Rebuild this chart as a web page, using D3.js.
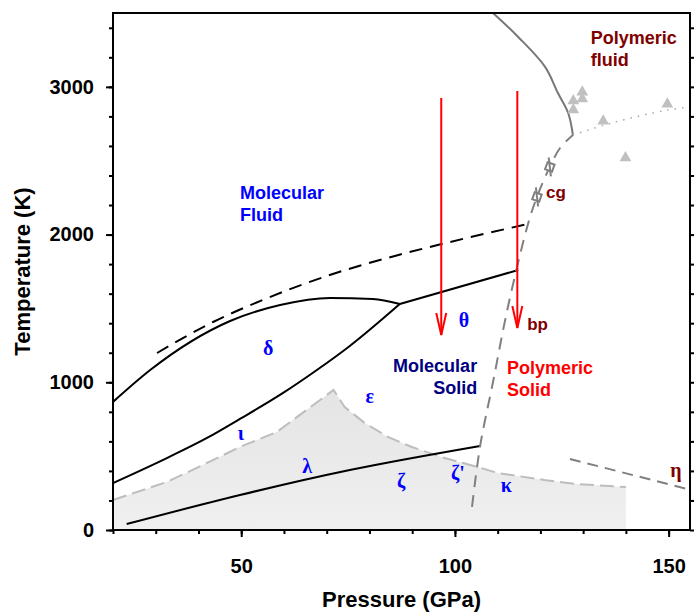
<!DOCTYPE html>
<html>
<head>
<meta charset="utf-8">
<script src="https://cdnjs.cloudflare.com/ajax/libs/d3/7.8.5/d3.min.js"></script>
<style>
  body { margin: 0; background: #fff; }
  svg text { font-family: "Liberation Sans", Arial, sans-serif; font-weight: bold; }
</style>
</head>
<body>
<svg id="chart"></svg>
<script>
// Datos (P en GPa, T en K)
const xMajor = [50, 100, 150];
const xMinor = d3.range(20, 160, 10);
const yMajor = [0, 1000, 2000, 3000];
const yMinor = d3.range(0, 3600, 200);

const shadeLeft = [[20, 203], [32.6, 325], [42, 454], [49.7, 562], [58.3, 663], [71.6, 948]];
const shadeRight = [[71.6, 948], [74.2, 833], [78.9, 724], [84.3, 630], [89.9, 562], [97.6, 487],
  [105.3, 427], [110, 386], [120.9, 339], [128.6, 311], [140, 291]];

const lambdaLine = [[23.2, 40], [49.7, 237], [75.4, 406], [105.9, 569]];
const deltaLow = [[20, 318], [32.6, 487], [42, 623], [49.7, 752], [59.8, 928], [67.7, 1083], [75.4, 1246], [87.1, 1530]];
const meltLine = [[20, 867], [28.7, 1083], [47.4, 1415], [59.1, 1523], [70.8, 1571], [80.8, 1564], [87.1, 1530]];
const thetaLine = [[87.1, 1530], [114.8, 1760]];
const dashedMelt = [[30.3, 1198], [43.4, 1408], [55, 1557], [70.7, 1726], [86.8, 1862], [96.9, 1936], [117.1, 2072]];

const polyBoundary = [[104, 156], [105.9, 569], [108.9, 1000], [112.4, 1510], [117.1, 2072],
  [119.2, 2255], [122.2, 2458], [124.6, 2586], [127.6, 2674]];
const fluidBoundary = [[108.9, 3500], [114.8, 3338], [121.1, 3135], [124.1, 2958], [126.5, 2823], [127.6, 2674]];
const dottedLine = [[127.6, 2674], [136.6, 2755], [149.7, 2843], [156, 2868]];
const etaLine = [[126.9, 481], [156, 265]];

const triangles = [[127.7, 2905], [127.7, 2844], [129.8, 2965], [129.8, 2918], [134.7, 2769], [149.7, 2884], [139.9, 2519]];
const diamonds = [[119.2, 2255], [122.2, 2458]];
const arrows = [[96.8, 2925, 1320], [114.6, 2972, 1368]];

const labels = [
  { lines: ['Molecular', 'Fluid'], p: 49.7, t: 2241, color: '#0000ff', anchor: 'start' },
  { lines: ['Polymeric', 'fluid'], p: 131.8, t: 3290, color: '#800000', anchor: 'start' },
  { lines: ['Molecular', 'Solid'], p: 105.2, t: 1070, color: '#000080', anchor: 'end' },
  { lines: ['Polymeric', 'Solid'], p: 112.2, t: 1056, color: '#ff0000', anchor: 'start' },
  { lines: ['cg'], p: 121.3, t: 2248, color: '#800000', anchor: 'start' },
  { lines: ['bp'], p: 116.9, t: 1354, color: '#800000', anchor: 'start' }
];
const greek = [
  { text: 'θ', p: 102.1, t: 1374, color: '#0000ff' },
  { text: 'δ', p: 56.3, t: 1185, color: '#0000ff' },
  { text: 'ε', p: 80.1, t: 860, color: '#0000ff' },
  { text: 'ι', p: 49.9, t: 609, color: '#0000ff' },
  { text: 'λ', p: 65.4, t: 386, color: '#0000ff' },
  { text: 'ζ', p: 87.4, t: 284, color: '#0000ff' },
  { text: "ζ'", p: 100.7, t: 339, color: '#0000ff' },
  { text: 'κ', p: 112, t: 257, color: '#0000ff' },
  { text: 'η', p: 151.7, t: 359, color: '#800000' }
];

// Ventana
const width = 695;
const height = 615;
const margin = { top: 13, right: 5, bottom: 85, left: 113 };

const svg = d3.select('#chart')
  .attr('width', width)
  .attr('height', height);

const x = d3.scaleLinear().domain([20, 155]).range([margin.left, width - margin.right]);
const y = d3.scaleLinear().domain([0, 3500]).range([height - margin.bottom, margin.top]);

const defs = svg.append('defs');
defs.append('clipPath').attr('id', 'plotClip')
  .append('rect')
  .attr('x', x(20)).attr('y', y(3500))
  .attr('width', x(155) - x(20)).attr('height', y(0) - y(3500));

const grad = defs.append('linearGradient').attr('id', 'shadeGrad')
  .attr('x1', 0).attr('y1', 0).attr('x2', 0).attr('y2', 1);
grad.append('stop').attr('offset', '0%').attr('stop-color', '#e4e4e4');
grad.append('stop').attr('offset', '100%').attr('stop-color', '#f0f0f0');

const plot = svg.append('g').attr('clip-path', 'url(#plotClip)');

const line = d3.line().x(d => x(d[0])).y(d => y(d[1]));
const smoothX = d3.line().x(d => x(d[0])).y(d => y(d[1])).curve(d3.curveMonotoneX);
const smooth = d3.line().x(d => x(d[0])).y(d => y(d[1])).curve(d3.curveCatmullRom.alpha(0.5));

// Zona sombreada
const shadePts = shadeLeft.concat(shadeRight.slice(1), [[140, 0], [20, 0]]);
plot.append('path')
  .attr('d', line(shadePts) + 'Z')
  .attr('fill', 'url(#shadeGrad)');

plot.append('path')
  .attr('d', line(shadeLeft.concat(shadeRight.slice(1))))
  .attr('fill', 'none')
  .attr('stroke', '#bdbdbd')
  .attr('stroke-width', 2)
  .attr('stroke-dasharray', '14,6');

// Lineas negras
[lambdaLine, deltaLow, meltLine, thetaLine].forEach(pts => {
  plot.append('path')
    .attr('d', smoothX(pts))
    .attr('fill', 'none')
    .attr('stroke', '#000')
    .attr('stroke-width', 2);
});

plot.append('path')
  .attr('d', smoothX(dashedMelt))
  .attr('fill', 'none')
  .attr('stroke', '#000')
  .attr('stroke-width', 2)
  .attr('stroke-dasharray', '13,8');

// Lineas grises
plot.append('path')
  .attr('d', smooth(polyBoundary))
  .attr('fill', 'none')
  .attr('stroke', '#808080')
  .attr('stroke-width', 2)
  .attr('stroke-dasharray', '12,8');

plot.append('path')
  .attr('d', smooth(fluidBoundary))
  .attr('fill', 'none')
  .attr('stroke', '#777')
  .attr('stroke-width', 2);

plot.append('path')
  .attr('d', smooth(dottedLine))
  .attr('fill', 'none')
  .attr('stroke', '#aaa')
  .attr('stroke-width', 1.5)
  .attr('stroke-dasharray', '1.5,6');

plot.append('path')
  .attr('d', line(etaLine))
  .attr('fill', 'none')
  .attr('stroke', '#808080')
  .attr('stroke-width', 2)
  .attr('stroke-dasharray', '11,7');

// Triangulos
plot.selectAll('.tri')
  .data(triangles)
  .enter().append('path')
  .attr('class', 'tri')
  .attr('d', d3.symbol().type(d3.symbolTriangle).size(60))
  .attr('transform', d => `translate(${x(d[0])},${y(d[1])})`)
  .attr('fill', '#c0c0c0');

// Diamantes
const dia = plot.selectAll('.dia')
  .data(diamonds)
  .enter().append('g')
  .attr('class', 'dia')
  .attr('transform', d => `translate(${x(d[0])},${y(d[1])}) rotate(-25)`);
dia.append('path')
  .attr('d', d3.symbol().type(d3.symbolDiamond2).size(70))
  .attr('fill', '#fff')
  .attr('stroke', '#808080')
  .attr('stroke-width', 2);
dia.append('line')
  .attr('x1', -3).attr('y1', 9).attr('x2', 3).attr('y2', -9)
  .attr('stroke', '#808080')
  .attr('stroke-width', 2);

// Flechas rojas
arrows.forEach(a => {
  const ax = x(a[0]);
  const tip = y(a[2]);
  plot.append('line')
    .attr('x1', ax).attr('x2', ax)
    .attr('y1', y(a[1])).attr('y2', tip)
    .attr('stroke', '#ff0000')
    .attr('stroke-width', 2);
  plot.append('path')
    .attr('d', `M${ax - 5},${tip - 22}L${ax},${tip}L${ax + 5},${tip - 22}`)
    .attr('fill', 'none')
    .attr('stroke', '#ff0000')
    .attr('stroke-width', 2);
});

// Etiquetas
labels.forEach(l => {
  const txt = svg.append('text')
    .attr('x', x(l.p))
    .attr('y', y(l.t))
    .attr('fill', l.color)
    .attr('font-size', l.lines.length > 1 ? 18 : 17)
    .attr('text-anchor', l.anchor);
  l.lines.forEach((s, i) => {
    txt.append('tspan')
      .attr('x', x(l.p))
      .attr('dy', i === 0 ? 0 : 22)
      .text(s);
  });
});

svg.selectAll('.greek')
  .data(greek)
  .enter().append('text')
  .attr('class', 'greek')
  .attr('x', d => x(d.p))
  .attr('y', d => y(d.t))
  .attr('text-anchor', 'middle')
  .attr('fill', d => d.color)
  .attr('font-size', 20)
  .style('font-family', '"Liberation Serif", serif')
  .text(d => d.text);

// Ejes
const axisStyle = g => {
  g.selectAll('.domain').remove();
  g.selectAll('line').attr('stroke', '#000').attr('stroke-width', 2);
  g.selectAll('text').attr('font-size', 20).attr('fill', '#000');
};

svg.append('g')
  .attr('transform', `translate(${margin.left},0)`)
  .call(d3.axisLeft(y).tickValues(yMinor).tickSize(4).tickFormat(''))
  .call(axisStyle);
svg.append('g')
  .attr('transform', `translate(${margin.left},0)`)
  .call(d3.axisLeft(y).tickValues(yMajor).tickSize(7).tickPadding(12).tickFormat(d3.format('d')))
  .call(axisStyle);
svg.append('g')
  .attr('transform', `translate(${width - margin.right},0)`)
  .call(d3.axisRight(y).tickValues(yMinor).tickSize(4).tickFormat(''))
  .call(axisStyle);
svg.append('g')
  .attr('transform', `translate(0,${height - margin.bottom})`)
  .call(d3.axisBottom(x).tickValues(xMinor).tickSize(4).tickFormat(''))
  .call(axisStyle);
svg.append('g')
  .attr('transform', `translate(0,${height - margin.bottom})`)
  .call(d3.axisBottom(x).tickValues(xMajor).tickSize(7).tickPadding(22).tickFormat(d3.format('d')))
  .call(axisStyle);

// Marco
svg.append('rect')
  .attr('x', x(20)).attr('y', y(3500))
  .attr('width', x(155) - x(20)).attr('height', y(0) - y(3500))
  .attr('fill', 'none')
  .attr('stroke', '#000')
  .attr('stroke-width', 2);

// Titulos
svg.append('text')
  .attr('x', (x(20) + x(155)) / 2)
  .attr('y', 607)
  .attr('text-anchor', 'middle')
  .attr('font-size', 22)
  .text('Pressure (GPa)');

svg.append('text')
  .attr('transform', `translate(30,${(y(0) + y(3500)) / 2}) rotate(-90)`)
  .attr('text-anchor', 'middle')
  .attr('font-size', 22)
  .text('Temperature (K)');
</script>
</body>
</html>
